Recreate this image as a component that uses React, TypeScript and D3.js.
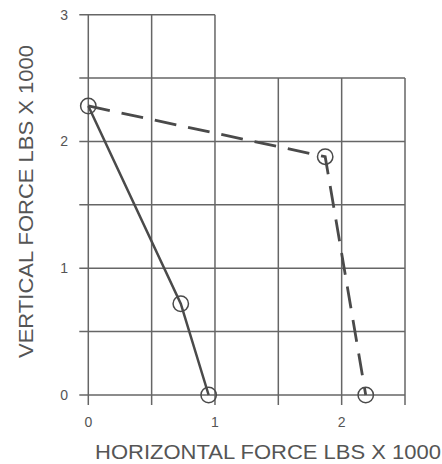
import React from "react";
import * as d3 from "d3";

const solidX = [0, 0.73, 0.95];
const solidY = [2.28, 0.72, 0];
const dashedX = [0, 1.87, 2.19];
const dashedY = [2.28, 1.88, 0];

const xTickLabels = [0, 1, 2];
const yTickLabels = [0, 1, 2, 3];
const gridX = [0, 0.5, 1, 1.5, 2, 2.5];
const gridY = [0, 0.5, 1, 1.5, 2, 2.5, 3];

const W = 442;
const H = 464;

const x = d3.scaleLinear().domain([0, 2.5]).range([88.3, 405]);
const y = d3.scaleLinear().domain([0, 3]).range([395, 14.7]);

const gridColor = "#666";
const lineColor = "#4a4a4a";
const textColor = "#555";

// top row of the grid only reaches x = 1
const topOf = (v: number) => (v <= 1 ? 3 : 2.5);
const rightOf = (v: number) => (v > 2.5 ? 1 : 2.5);

const App: React.FC = () => {
  const line = d3
    .line<[number, number]>()
    .x((d) => x(d[0]))
    .y((d) => y(d[1]));
  const solid = solidX.map((v, i) => [v, solidY[i]] as [number, number]);
  const dashed = dashedX.map((v, i) => [v, dashedY[i]] as [number, number]);

  return (
    <svg
      width={W}
      height={H}
      style={{ position: "absolute", left: 0, top: 0, background: "#fff" }}
      fontFamily="'Liberation Sans', Arial, sans-serif"
    >
      <g stroke={gridColor} strokeWidth={1.5} fill="none">
        {gridX.map((v) => (
          <line key={"vx" + v} x1={x(v)} x2={x(v)} y1={y(0) + 10} y2={y(topOf(v))} />
        ))}
        {gridY.map((v) => (
          <line key={"hy" + v} x1={x(0) - 9} x2={x(rightOf(v))} y1={y(v)} y2={y(v)} />
        ))}
      </g>
      <g fill={textColor} fontSize={14}>
        {xTickLabels.map((v) => (
          <text key={"xl" + v} x={x(v)} y={427} textAnchor="middle">
            {v}
          </text>
        ))}
        {yTickLabels.map((v) => (
          <text key={"yl" + v} x={68} y={y(v) + 5} textAnchor="end">
            {v}
          </text>
        ))}
      </g>
      <path d={line(solid) ?? ""} fill="none" stroke={lineColor} strokeWidth={2.5} />
      <path
        d={line(dashed) ?? ""}
        fill="none"
        stroke={lineColor}
        strokeWidth={2.8}
        strokeDasharray="22 12"
      />
      <g fill="none" stroke={lineColor} strokeWidth={1.5}>
        {[...solid, ...dashed.slice(1)].map((d, i) => (
          <circle key={"c" + i} cx={x(d[0])} cy={y(d[1])} r={7.7} />
        ))}
      </g>
      <text
        x={268}
        y={459}
        textAnchor="middle"
        fontSize={20}
        fill={textColor}
        textLength={346}
        lengthAdjust="spacingAndGlyphs"
      >
        HORIZONTAL FORCE LBS X 1000
      </text>
      <text
        transform={`translate(33,201.5) rotate(-90)`}
        textAnchor="middle"
        fontSize={20}
        fill={textColor}
        textLength={313}
        lengthAdjust="spacingAndGlyphs"
      >
        VERTICAL FORCE LBS X 1000
      </text>
    </svg>
  );
};

export default App;
